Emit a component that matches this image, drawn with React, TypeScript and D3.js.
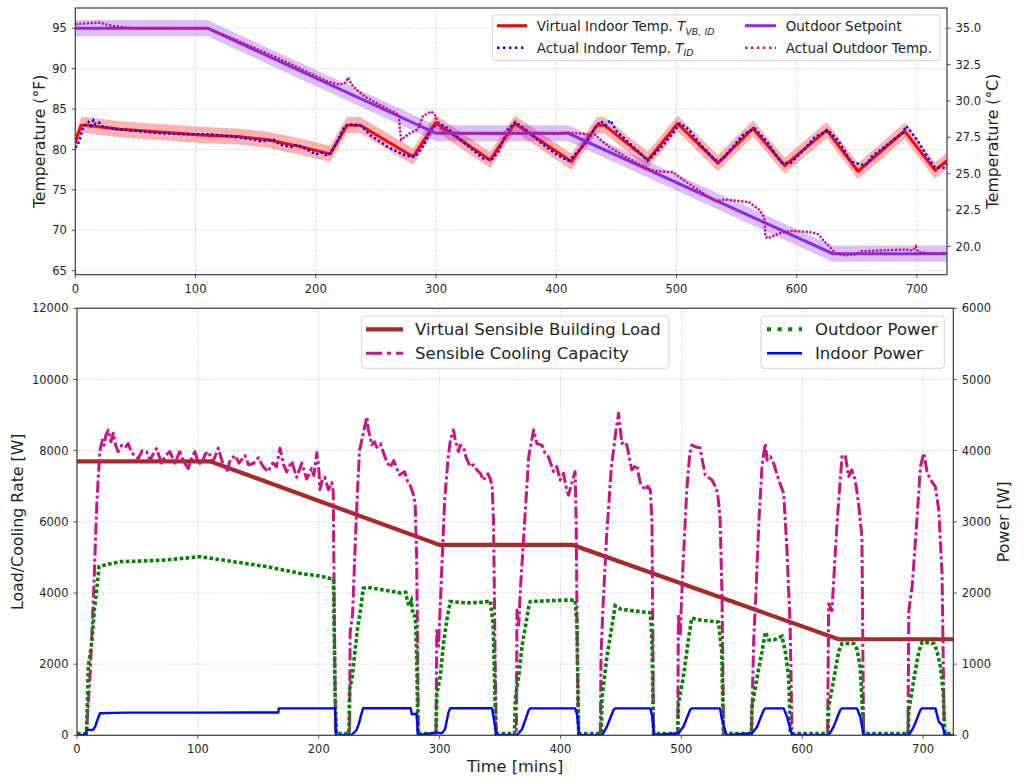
import * as d3 from 'd3';

type Pt = [number, number];

// ---- tick values ----
const TIME_TICKS = [0, 100, 200, 300, 400, 500, 600, 700];
const TEMP_F_TICKS = [65, 70, 75, 80, 85, 90, 95];
const TEMP_C_TICKS = [20, 22.5, 25, 27.5, 30, 32.5, 35];
const LOAD_TICKS = [0, 2000, 4000, 6000, 8000, 10000, 12000];
const POWER_TICKS = [0, 1000, 2000, 3000, 4000, 5000, 6000];

// ---- top panel (°F), [minute, value] ----
const OUTDOOR_SETPOINT: Pt[] = [[0, 95], [110, 95], [300, 82], [410, 82], [630, 67.1], [725, 67.1]];

const VIRTUAL_INDOOR: Pt[] = [
  [0, 80.8], [2, 81.8], [5, 83.0], [10, 83.0], [20, 82.8], [37, 82.5], [76, 82.1], [104, 81.8], [135, 81.6],
  [160, 81.2], [187, 80.35], [212, 79.45], [226, 83.0], [237, 83.0], [281, 79.1], [299.5, 83.3], [345, 78.7],
  [365.5, 83.2], [412.6, 78.5], [434, 83.0], [440, 83.0], [476.3, 78.7], [501, 83.2], [534.5, 78.3],
  [563.6, 82.6], [590, 78.0], [625, 82.4], [651, 77.3], [689.7, 82.3], [715, 77.4], [725, 78.6],
];

const ACTUAL_INDOOR: Pt[] = [
  [0, 80.2], [2, 80.6], [4, 81.3], [6, 82.5], [8, 83.0], [11, 83.4], [13, 82.9], [15, 83.6], [17, 83.1], [20, 83.3],
  [23, 82.8], [27, 82.7], [35, 82.5], [50, 82.3], [70, 82.0], [90, 81.9], [110, 81.9], [130, 81.6], [145, 81.3],
  [155, 81.0], [165, 81.2], [170, 80.6], [180, 80.3], [185, 80.6], [195, 79.8], [200, 79.4], [205, 79.6],
  [210, 79.2], [213, 79.7], [218, 81.0], [224, 82.9], [230, 83.1], [238, 82.9], [245, 81.8], [260, 80.3],
  [275, 79.2], [283, 79.1], [290, 80.6], [297, 82.6], [302, 83.3], [310, 82.6], [325, 80.6], [340, 78.8],
  [347, 78.8], [352, 79.8], [360, 82.5], [366, 83.4], [375, 82.4], [390, 80.5], [400, 79.4], [410, 78.6],
  [415, 79.3], [420, 80.0], [428, 81.5], [433, 82.8], [437, 83.5], [441, 83.0], [445, 83.6], [450, 82.3],
  [465, 80.2], [476, 78.6], [481, 79.3], [490, 80.7], [503, 83.2], [510, 82.5], [520, 80.6], [532, 78.7],
  [538, 78.7], [545, 80.0], [556, 81.9], [565, 82.6], [575, 81.0], [587, 78.4], [595, 78.3], [605, 79.8],
  [615, 81.5], [626, 82.4], [635, 81.0], [645, 78.5], [652, 78.2], [657, 78.0], [663, 79.2], [672, 80.2],
  [681, 81.3], [688, 82.0], [691, 82.9], [694, 82.4], [700, 81.2], [710, 78.8], [715, 77.8], [722, 77.7], [725, 78.2],
];

const ACTUAL_OUTDOOR: Pt[] = [
  [0, 95.5], [10, 95.6], [20, 95.7], [25, 95.5], [30, 95.3], [40, 95.1], [50, 95.0], [110, 95.0], [130, 93.8],
  [150, 92.5], [170, 91.2], [190, 89.8], [210, 88.4], [220, 88.0], [225, 88.3], [227, 88.9], [229, 88.3],
  [231, 87.8], [241, 86.5], [255, 85.4], [269, 84.3], [270, 82.5], [271, 81.2], [277, 81.9], [285, 82.5],
  [289, 84.1], [296, 84.7], [299, 84.3], [302, 83.0], [306, 82.2], [320, 82.0], [350, 81.9], [380, 82.0],
  [400, 81.9], [410, 82.1], [425, 81.9], [433, 81.8], [436, 81.3], [445, 80.2], [460, 78.9], [478, 77.5],
  [485, 77.3], [497, 77.2], [505, 76.3], [520, 74.8], [532, 73.6], [540, 73.8], [560, 73.5], [569, 72.5],
  [573, 71.6], [574, 69.2], [576, 69.0], [585, 69.6], [595, 69.9], [610, 69.8], [618, 69.5], [622, 68.8],
  [632, 67.2], [640, 66.9], [648, 67.0], [654, 67.4], [670, 67.5], [690, 67.6], [697, 67.5], [699, 68.0],
  [701, 67.3], [715, 67.1], [725, 67.2],
];

// ---- bottom panel, [minute, W] ----
const BUILDING_LOAD: Pt[] = [[0, 7700], [110, 7700], [300, 5350], [410, 5350], [630, 2700], [725, 2700]];

const COOLING_CAPACITY: Pt[] = [
  [0, 0], [7.5, 0], [9.4, 900], [11, 1800], [12.5, 3000], [14, 4200], [15, 5200], [16.3, 6400], [17.5, 7200],
  [19, 8000], [21, 8300], [22.5, 8150], [24, 8450], [25.9, 8580], [28, 8250], [30, 8490], [32, 8150], [34, 7970],
  [37, 8150], [40, 8100], [42.4, 8200], [45, 7950], [48, 7850], [50.6, 7780], [54, 8000], [57.5, 7970],
  [60.3, 7730], [63, 7900], [65.8, 8060], [69.9, 7650], [73, 7850], [76.8, 7970], [81, 7650], [85, 7970],
  [88, 7700], [92, 7500], [95, 7800], [97.5, 7970], [100, 7700], [103, 7600], [106, 7900], [108.5, 7970],
  [112.7, 7700], [117, 8070], [120, 7700], [123.9, 7410], [127, 7750], [130.8, 7860], [134, 7650], [139, 7860],
  [142, 7600], [146, 7640], [150, 7800], [154, 7550], [158, 7410], [162, 7650], [165, 7550], [168, 8070],
  [171, 7600], [173.5, 7400], [177.6, 7700], [181.8, 7250], [186, 7650], [190, 7200], [194, 7500], [196, 7300],
  [198.4, 7940], [200, 7500], [201, 6900], [203, 7200], [205, 7250], [208, 6900], [210.8, 7100], [212, 6850],
  [213, 3000], [214, 0],
  [225.5, 0], [226, 2900], [228, 3400], [230.9, 6000], [233.7, 8000], [236, 8350], [239.8, 8950], [241, 8600],
  [243.9, 8160], [246, 8250], [248, 8100], [251, 8200], [255, 7800], [259, 7530], [262, 7720], [264, 7550],
  [267, 7320], [271, 7410], [273.6, 7130], [276, 7000], [278, 6800], [279.8, 6520], [281, 5000], [282.5, 0],
  [297, 0], [297.7, 3000], [299, 2500], [301, 4000], [304, 6500], [307, 7800], [309, 8300], [311.5, 8580],
  [313, 8300], [315.6, 7970], [317, 8150], [319.8, 8100], [322, 7800], [325.3, 7550], [328, 7600], [331, 7450],
  [334, 7350], [336, 7170], [338, 7250], [340, 7350], [342, 7200], [343.5, 7000], [344.6, 6000], [346, 2000], [347, 0],
  [363.5, 0], [364, 3520], [365.5, 3100], [367, 4200], [370, 5800], [373.7, 7830], [377.8, 8580], [380.5, 8200],
  [384.7, 8150], [387, 7950], [390, 7830], [394.3, 7410], [397, 7550], [399.7, 7175], [402.5, 7360], [404.5, 7000],
  [406.6, 6750], [409.4, 7080], [412.1, 7410], [413, 6000], [414, 2000], [415, 0],
  [433, 0], [433.5, 2200], [435, 3500], [438, 5500], [442, 7500], [446, 8600], [448.1, 9050], [450.8, 8200],
  [453, 8250], [455, 8150], [459, 7460], [463, 7600], [466, 7100], [470, 6890], [472, 7000], [474.3, 6900],
  [475.7, 6000], [477, 0],
  [497, 0], [497.6, 3400], [499, 2800], [501, 4500], [504.5, 6900], [507, 7900], [508.6, 8160], [512, 8100],
  [515.5, 8080], [517, 7800], [519.7, 7320], [522, 7250], [525.2, 7180], [528, 7000], [530, 6800], [532, 6150],
  [533.6, 4000], [535, 0],
  [558, 0], [559.9, 2700], [562, 4200], [564, 5900], [566.8, 7600], [569.5, 8200], [570.9, 7730], [573.7, 7830],
  [576.4, 7640], [580.5, 7180], [584.7, 6800], [587.4, 5200], [590, 3100], [591.6, 0],
  [621, 0], [621.9, 3700], [624.6, 3500], [628.7, 5900], [632.9, 7830], [635.6, 7880], [638.4, 7270], [641, 7460],
  [643.9, 7180], [646.6, 6520], [649.4, 5580], [650.8, 0],
  [687.5, 0], [688.2, 3500], [691, 4190], [695.1, 6150], [697.8, 7550], [700.6, 7930], [703.3, 7410], [706.1, 7180],
  [710.2, 6990], [713, 6330], [715.7, 4550], [717.5, 0], [725, 0],
];

const OUTDOOR_POWER: Pt[] = [
  [0, 25], [7.5, 25], [8, 75], [9.4, 965], [12.2, 1300], [14.4, 1760], [16.3, 2045], [18.2, 2370], [25, 2400],
  [35.6, 2440], [55, 2450], [74, 2465], [90, 2490], [101.8, 2510], [110, 2490], [129.4, 2440], [157, 2370],
  [184.6, 2275], [200, 2240], [209.4, 2205], [212.2, 2190], [213.5, 600], [214.5, 25],
  [225, 25], [225.5, 640], [227.7, 820], [231.9, 1480], [234.6, 1760], [236.8, 2065], [240, 2080], [254, 2040],
  [267.8, 2000], [272, 2010], [273.3, 1890], [274.7, 1820], [276.6, 1890], [278, 1690], [280, 1670], [281.2, 1000], [282, 25],
  [297, 25], [297.7, 590], [300.5, 820], [303.3, 1300], [306, 1620], [308.8, 1880], [322.6, 1860], [336.4, 1870],
  [342, 1890], [344.2, 1570], [345.3, 900], [346.5, 25],
  [362, 25], [362.6, 520], [365.4, 820], [368.2, 1250], [371, 1530], [373.7, 1800], [375, 1880], [390, 1890],
  [405, 1900], [412.1, 1900], [413.6, 1570], [415, 25],
  [433.8, 25], [434.3, 520], [438.4, 1100], [442.5, 1530], [445.3, 1820], [450, 1770], [470, 1730], [474.3, 1720],
  [475.7, 1340], [477, 25],
  [497, 25], [497.6, 450], [501.7, 820], [505.8, 1340], [508.6, 1645], [515.5, 1620], [526.5, 1600], [530.7, 1590],
  [533.4, 1180], [534.8, 25],
  [558, 25], [558.5, 400], [562.7, 820], [566.8, 1180], [569.5, 1450], [572.3, 1340], [576.4, 1340], [583.3, 1390],
  [586, 1180], [588.8, 820], [590.2, 25],
  [621.4, 25], [621.9, 400], [626, 780], [630.2, 1180], [632.9, 1290], [642.6, 1290], [645.3, 1210], [648, 960], [650.8, 25],
  [687.7, 25], [688.2, 350], [692.3, 780], [696.5, 1180], [699.2, 1310], [708.9, 1290], [711.6, 1180], [714.4, 960],
  [716.6, 620], [718, 25], [725, 25],
];

const INDOOR_POWER: Pt[] = [
  [0, 0], [7.4, 0], [8, 75], [13.5, 80], [15, 120], [17, 220], [19, 310], [40, 318], [100, 318], [166.5, 320],
  [167, 378], [213.5, 378], [214.5, 0],
  [227, 0], [231.2, 75], [233, 150], [235, 280], [236.7, 380], [276, 380], [277, 300], [281, 300], [282, 0],
  [297.7, 38], [301.8, 28], [304.5, 85], [307.3, 320], [308.8, 380], [343.3, 380], [344.6, 260], [347, 0],
  [364, 0], [368.1, 85], [370.9, 215], [373.7, 355], [375, 378], [412.1, 378], [413.6, 300], [415.5, 0],
  [434.3, 0], [438.4, 121], [441.1, 239], [443.9, 356], [445.3, 378], [474.3, 378], [475.7, 285], [477.6, 0],
  [497.6, 28], [501.7, 121], [504.5, 239], [507.2, 356], [508.6, 378], [532, 378], [533.4, 239], [536.2, 75], [537.5, 0],
  [558.5, 28], [562.7, 121], [565.4, 239], [568.2, 356], [569.5, 378], [584.7, 378], [587.4, 261], [590.2, 85], [591.6, 0],
  [621.9, 0], [626, 121], [628.7, 239], [631.5, 356], [632.9, 378], [645.3, 378], [648, 261], [650.8, 0],
  [688.2, 0], [692.3, 121], [695.1, 239], [697.8, 356], [699.2, 378], [710.2, 378], [713, 190], [715.7, 145],
  [718.5, 0], [725, 0],
];

const FONT = '"DejaVu Sans", Verdana, sans-serif';
const TOP = { l: 75.3, r: 947, t: 8, b: 274.7 };
const BOT = { l: 77, r: 953.3, t: 308.3, b: 735.3 };
const SPINE = '#3d3d3d';
const TXT = '#1f1f1f';
const GRID = '#b8b8b8';

const C_RED = '#ff0000';
const C_BLUE = '#0000ff';
const C_PURPLE = '#8a2be2';
const C_MAGENTA = '#c71585';
const C_BROWN = '#a52a2a';
const C_GREEN = '#008000';

function LegendBox({ x, y, w, h }: { x: number; y: number; w: number; h: number }) {
  return <rect x={x} y={y} width={w} height={h} rx={3} fill="#fff" fillOpacity={0.8} stroke="#d4d4d4" strokeWidth={1} />;
}

export default function App() {
  const xTop = d3.scaleLinear().domain([0, 725]).range([TOP.l, TOP.r]);
  const yF = d3.scaleLinear().domain([64.5, 97.5]).range([TOP.b, TOP.t]);
  const yC = d3.scaleLinear().domain([(64.5 - 32) / 1.8, (97.5 - 32) / 1.8]).range([TOP.b, TOP.t]);
  const xBot = d3.scaleLinear().domain([0, 725]).range([BOT.l, BOT.r]);
  const yLoad = d3.scaleLinear().domain([0, 12000]).range([BOT.b, BOT.t]);
  const yPow = d3.scaleLinear().domain([0, 6000]).range([BOT.b, BOT.t]);

  const lineF = d3.line<Pt>().x((d) => xTop(d[0])).y((d) => yF(d[1]));
  const bandF = d3.area<Pt>().x((d) => xTop(d[0])).y0((d) => yF(d[1] - 1)).y1((d) => yF(d[1] + 1));
  const lineLoad = d3.line<Pt>().x((d) => xBot(d[0])).y((d) => yLoad(d[1]));
  const linePow = d3.line<Pt>().x((d) => xBot(d[0])).y((d) => yPow(d[1]));

  const tickFs = 11.5;

  return (
    <div style={{ position: 'absolute', left: 0, top: 0 }}>
      <svg width={1024} height={784} style={{ display: 'block', background: '#fff' }} fontFamily={FONT}>
        <defs>
          <clipPath id="clipTop"><rect x={TOP.l} y={TOP.t} width={TOP.r - TOP.l} height={TOP.b - TOP.t} /></clipPath>
          <clipPath id="clipBot"><rect x={BOT.l} y={BOT.t} width={BOT.r - BOT.l} height={BOT.b - BOT.t} /></clipPath>
        </defs>

        {/* ===== top panel ===== */}
        <g>
          {TIME_TICKS.map((t) => (
            <line key={'gxt' + t} x1={xTop(t)} x2={xTop(t)} y1={TOP.t} y2={TOP.b} stroke={GRID} strokeWidth={0.8} strokeDasharray="1 1.6" />
          ))}
          {TEMP_F_TICKS.map((v) => (
            <line key={'gyt' + v} x1={TOP.l} x2={TOP.r} y1={yF(v)} y2={yF(v)} stroke={GRID} strokeWidth={0.8} strokeDasharray="1 1.6" />
          ))}
          <g clipPath="url(#clipTop)">
            <path d={bandF(VIRTUAL_INDOOR)!} fill={C_RED} fillOpacity={0.3} />
            <path d={lineF(VIRTUAL_INDOOR)!} fill="none" stroke={C_RED} strokeWidth={3} strokeLinejoin="round" />
            <path d={lineF(ACTUAL_INDOOR)!} fill="none" stroke={C_BLUE} strokeWidth={2.4} strokeDasharray="2.4 2.4" />
            <path d={bandF(OUTDOOR_SETPOINT)!} fill={C_PURPLE} fillOpacity={0.3} />
            <path d={lineF(OUTDOOR_SETPOINT)!} fill="none" stroke={C_PURPLE} strokeWidth={3} />
            <path d={lineF(ACTUAL_OUTDOOR)!} fill="none" stroke={C_MAGENTA} strokeWidth={2.4} strokeDasharray="2.4 1.4" />
          </g>
          <rect x={TOP.l} y={TOP.t} width={TOP.r - TOP.l} height={TOP.b - TOP.t} fill="none" stroke={SPINE} strokeWidth={1.2} />
          {TIME_TICKS.map((t) => (
            <g key={'xt' + t}>
              <line x1={xTop(t)} x2={xTop(t)} y1={TOP.b} y2={TOP.b + 3.5} stroke={SPINE} strokeWidth={0.9} />
              <text x={xTop(t)} y={TOP.b + 18} textAnchor="middle" fontSize={tickFs} fill={TXT}>{t}</text>
            </g>
          ))}
          {TEMP_F_TICKS.map((v) => (
            <g key={'yf' + v}>
              <line x1={TOP.l - 3.5} x2={TOP.l} y1={yF(v)} y2={yF(v)} stroke={SPINE} strokeWidth={0.9} />
              <text x={TOP.l - 8.5} y={yF(v)} dy="0.36em" textAnchor="end" fontSize={tickFs} fill={TXT}>{v}</text>
            </g>
          ))}
          {TEMP_C_TICKS.map((v) => (
            <g key={'yc' + v}>
              <line x1={TOP.r} x2={TOP.r + 3.5} y1={yC(v)} y2={yC(v)} stroke={SPINE} strokeWidth={0.9} />
              <text x={TOP.r + 8.5} y={yC(v)} dy="0.36em" textAnchor="start" fontSize={tickFs} fill={TXT}>{v.toFixed(1)}</text>
            </g>
          ))}
          <text transform={`translate(45,${(TOP.t + TOP.b) / 2}) rotate(-90)`} textAnchor="middle" fontSize={15.7} fill={TXT}>Temperature (°F)</text>
          <text transform={`translate(998,${(TOP.t + TOP.b) / 2}) rotate(-90)`} textAnchor="middle" fontSize={15.7} fill={TXT}>Temperature (°C)</text>

          {/* legend */}
          <LegendBox x={492.7} y={15} w={447.3} h={45.7} />
          <line x1={497} x2={527} y1={25.7} y2={25.7} stroke={C_RED} strokeWidth={3} />
          <line x1={497} x2={527} y1={47.7} y2={47.7} stroke={C_BLUE} strokeWidth={2.4} strokeDasharray="2.4 3.6" />
          <line x1={745} x2={776} y1={25.7} y2={25.7} stroke={C_PURPLE} strokeWidth={3} />
          <line x1={745} x2={776} y1={47.7} y2={47.7} stroke={C_MAGENTA} strokeWidth={2.4} strokeDasharray="2.4 3.6" />
          <text x={536.7} y={31.3} fontSize={13.5} fill={TXT}>
            Virtual Indoor Temp. <tspan fontStyle="italic">T</tspan>
            <tspan fontStyle="italic" fontSize={9.5} dy={3.5}>VB, ID</tspan>
          </text>
          <text x={536.7} y={52.6} fontSize={13.5} fill={TXT}>
            Actual Indoor Temp. <tspan fontStyle="italic">T</tspan>
            <tspan fontStyle="italic" fontSize={9.5} dy={3.5}>ID</tspan>
          </text>
          <text x={785.7} y={31.3} fontSize={13.5} fill={TXT}>Outdoor Setpoint</text>
          <text x={785.7} y={52.6} fontSize={13.5} fill={TXT}>Actual Outdoor Temp.</text>
        </g>

        {/* ===== bottom panel ===== */}
        <g>
          {TIME_TICKS.map((t) => (
            <line key={'gxb' + t} x1={xBot(t)} x2={xBot(t)} y1={BOT.t} y2={BOT.b} stroke={GRID} strokeWidth={0.8} strokeDasharray="1 1.6" />
          ))}
          {LOAD_TICKS.map((v) => (
            <line key={'gyb' + v} x1={BOT.l} x2={BOT.r} y1={yLoad(v)} y2={yLoad(v)} stroke={GRID} strokeWidth={0.8} strokeDasharray="1 1.6" />
          ))}
          <g clipPath="url(#clipBot)">
            <path d={lineLoad(BUILDING_LOAD)!} fill="none" stroke={C_BROWN} strokeWidth={4.2} />
            <path d={lineLoad(COOLING_CAPACITY)!} fill="none" stroke={C_MAGENTA} strokeWidth={3} strokeDasharray="12 3 3 3" strokeLinejoin="round" />
            <path d={linePow(OUTDOOR_POWER)!} fill="none" stroke={C_GREEN} strokeWidth={3.6} strokeDasharray="3.6 2.4" />
            <path d={linePow(INDOOR_POWER)!} fill="none" stroke={C_BLUE} strokeWidth={2.4} strokeLinejoin="round" />
          </g>
          <rect x={BOT.l} y={BOT.t} width={BOT.r - BOT.l} height={BOT.b - BOT.t} fill="none" stroke={SPINE} strokeWidth={1.2} />
          {TIME_TICKS.map((t) => (
            <g key={'xb' + t}>
              <line x1={xBot(t)} x2={xBot(t)} y1={BOT.b} y2={BOT.b + 3.5} stroke={SPINE} strokeWidth={0.9} />
              <text x={xBot(t)} y={BOT.b + 18} textAnchor="middle" fontSize={tickFs} fill={TXT}>{t}</text>
            </g>
          ))}
          {LOAD_TICKS.map((v) => (
            <g key={'yl' + v}>
              <line x1={BOT.l - 3.5} x2={BOT.l} y1={yLoad(v)} y2={yLoad(v)} stroke={SPINE} strokeWidth={0.9} />
              <text x={BOT.l - 8.5} y={yLoad(v)} dy="0.36em" textAnchor="end" fontSize={tickFs} fill={TXT}>{v}</text>
            </g>
          ))}
          {POWER_TICKS.map((v) => (
            <g key={'yp' + v}>
              <line x1={BOT.r} x2={BOT.r + 3.5} y1={yPow(v)} y2={yPow(v)} stroke={SPINE} strokeWidth={0.9} />
              <text x={BOT.r + 8.5} y={yPow(v)} dy="0.36em" textAnchor="start" fontSize={tickFs} fill={TXT}>{v}</text>
            </g>
          ))}
          <text x={(BOT.l + BOT.r) / 2} y={772} textAnchor="middle" fontSize={16.2} fill={TXT}>Time [mins]</text>
          <text transform={`translate(23,${(BOT.t + BOT.b) / 2}) rotate(-90)`} textAnchor="middle" fontSize={15.8} fill={TXT}>Load/Cooling Rate [W]</text>
          <text transform={`translate(1009,${(BOT.t + BOT.b) / 2}) rotate(-90)`} textAnchor="middle" fontSize={15.8} fill={TXT}>Power [W]</text>

          {/* legends */}
          <LegendBox x={361.7} y={316} w={307.3} h={52.3} />
          <line x1={366} x2={403} y1={329.3} y2={329.3} stroke={C_BROWN} strokeWidth={4.2} />
          <line x1={366} x2={403} y1={353.3} y2={353.3} stroke={C_MAGENTA} strokeWidth={3} strokeDasharray="16 5 4 5" />
          <text x={415} y={335} fontSize={16.5} fill={TXT}>Virtual Sensible Building Load</text>
          <text x={415} y={359} fontSize={16.5} fill={TXT}>Sensible Cooling Capacity</text>

          <LegendBox x={761} y={316} w={183.3} h={52.3} />
          <line x1={767} x2={802} y1={329.3} y2={329.3} stroke={C_GREEN} strokeWidth={4} strokeDasharray="4 6.6" />
          <line x1={767} x2={802} y1={353.3} y2={353.3} stroke={C_BLUE} strokeWidth={2.4} />
          <text x={815} y={335} fontSize={16.5} fill={TXT}>Outdoor Power</text>
          <text x={815} y={359} fontSize={16.5} fill={TXT}>Indoor Power</text>
        </g>
      </svg>
    </div>
  );
}
